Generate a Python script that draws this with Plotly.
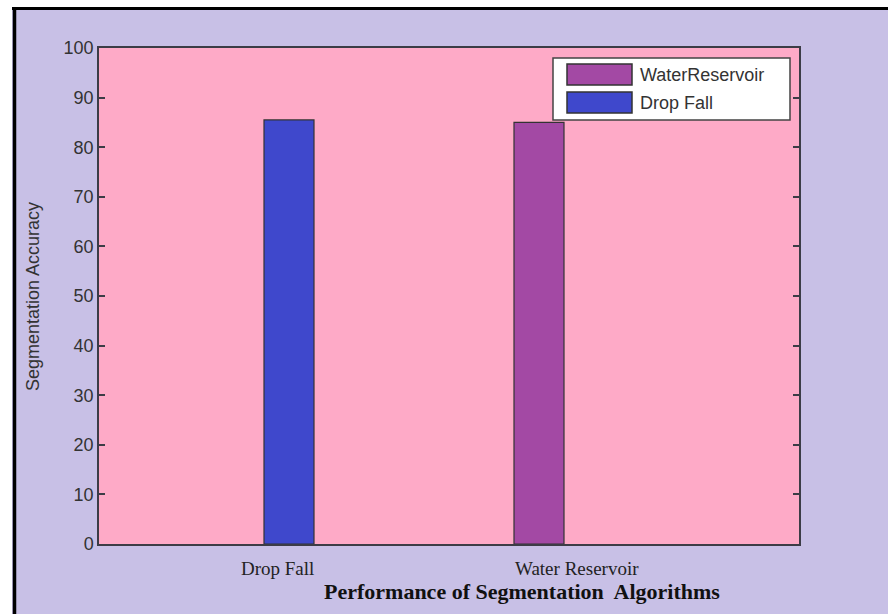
import plotly.graph_objects as go

categories = ["Drop Fall", "Water Reservoir"]
series_names = ["WaterReservoir", "Drop Fall"]
water_values = [85.0]
drop_values = [85.5]
y_ticks = [0, 10, 20, 30, 40, 50, 60, 70, 80, 90, 100]

LAV = "#c8c0e6"
PINK = "#feaac7"
BLUE = "#3f48cc"
PURPLE = "#a349a4"
AX = "#3c3c46"
series_colors = [PURPLE, BLUE]

fig = go.Figure()
fig.add_trace(go.Bar(x=[categories[1]], y=water_values, name=series_names[0],
                     marker=dict(color=PURPLE, line=dict(color="#333333", width=1.2)),
                     width=0.2, showlegend=False))
fig.add_trace(go.Bar(x=[categories[0]], y=drop_values, name=series_names[1],
                     marker=dict(color=BLUE, line=dict(color="#333333", width=1.2)),
                     width=0.2, showlegend=False))

W, H = 888, 614
L, R, T, B = 99, 89, 48, 70
pw, ph = W - L - R, H - T - B

def px(x):
    return (x - L) / pw

def py(y):
    return (H - B - y) / ph

shapes = [
    dict(type="rect", xref="paper", yref="paper", x0=px(-20), x1=px(W + 20), y0=py(7), y1=py(-20),
         fillcolor="white", line=dict(width=0), layer="below"),
    dict(type="rect", xref="paper", yref="paper", x0=px(-20), x1=px(12), y0=py(-20), y1=py(H + 20),
         fillcolor="white", line=dict(width=0), layer="below"),
    dict(type="line", xref="paper", yref="paper", x0=px(12), x1=px(W + 20), y0=py(8.5), y1=py(8.5),
         line=dict(color="black", width=3)),
    dict(type="line", xref="paper", yref="paper", x0=px(14.5), x1=px(14.5), y0=py(7), y1=py(H + 20),
         line=dict(color="black", width=3.5)),
    # legend box
    dict(type="rect", xref="paper", yref="paper", x0=px(553), x1=px(790), y0=py(120), y1=py(58),
         fillcolor="white", line=dict(color="#444444", width=1.5)),
]

annotations = [
    dict(text=categories[0], x=categories[0], xref="x", y=py(568), yref="paper", xshift=-12,
         xanchor="center", yanchor="middle", showarrow=False,
         font=dict(family="Liberation Serif", size=19, color="#222222")),
    dict(text=categories[1], x=categories[1], xref="x", y=py(568), yref="paper", xshift=38,
         xanchor="center", yanchor="middle", showarrow=False,
         font=dict(family="Liberation Serif", size=19, color="#222222")),
    dict(text="<b>Performance of Segmentation  Algorithms</b>", x=px(522), y=py(591),
         xref="paper", yref="paper", xanchor="center", yanchor="middle", showarrow=False,
         font=dict(family="Liberation Serif", size=22, color="#111111")),
    dict(text="Segmentation Accuracy", x=px(33), y=py(297), xref="paper", yref="paper",
         xanchor="center", yanchor="middle", textangle=-90, showarrow=False,
         font=dict(family="Liberation Sans", size=18, color="#333333")),
]

# custom legend entries (wide swatches like the original)
row_y = [74.5, 102.5]
for name, color, ry in zip(series_names, series_colors, row_y):
    shapes.append(dict(type="rect", xref="paper", yref="paper",
                       x0=px(567), x1=px(632), y0=py(ry + 10.5), y1=py(ry - 10.5),
                       fillcolor=color, line=dict(color="#333333", width=1.5)))
    annotations.append(dict(text=name, x=px(638), y=py(ry), xref="paper", yref="paper",
                            xanchor="left", yanchor="middle", showarrow=False,
                            font=dict(family="Liberation Sans", size=18, color="#333333")))

fig.update_layout(
    width=W, height=H,
    margin=dict(l=L, r=R, t=T, b=B, pad=0),
    paper_bgcolor=LAV,
    plot_bgcolor=PINK,
    barmode="overlay",
    showlegend=False,
    xaxis=dict(range=[-0.76, 2.04], showticklabels=False, ticks="",
               categoryorder="array", categoryarray=categories,
               showline=True, linecolor=AX, linewidth=1.5, mirror=True,
               showgrid=False, zeroline=False),
    yaxis=dict(range=[0, 100], tickvals=y_ticks, ticks="inside", ticklen=6,
               tickcolor=AX, tickwidth=1.5,
               showline=True, linecolor=AX, linewidth=1.5, mirror="ticks",
               showgrid=False, zeroline=False,
               tickfont=dict(family="Liberation Sans", size=18, color="#333333")),
    shapes=shapes,
    annotations=annotations,
)

fig.write_html("out.html", config={"displayModeBar": False},
               post_script="document.body.style.margin='0';document.body.style.padding='0';"
                           "document.body.style.overflow='hidden';")
